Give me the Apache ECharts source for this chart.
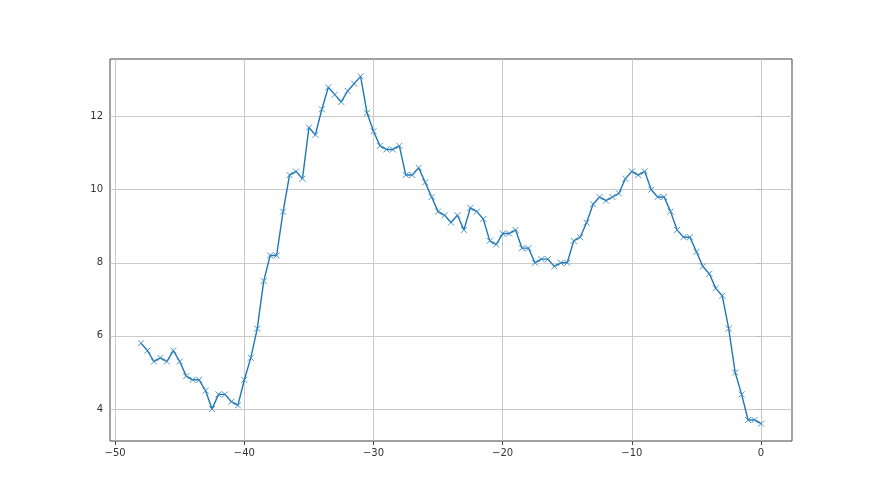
<!DOCTYPE html>
<html>
<head>
<meta charset="UTF-8">
<title>line</title>
<style>
  html, body { margin: 0; padding: 0; background: #fff; }
  #chart { width: 880px; height: 495px; }
</style>
</head>
<body>
<div id="chart"></div>
<script src="https://cdn.jsdelivr.net/npm/echarts@6/dist/echarts.min.js"></script>
<script>
// x positions of the samples
var xValues = [
  -48, -47.5, -47, -46.5, -46, -45.5, -45, -44.5, -44, -43.5,
  -43, -42.5, -42, -41.5, -41, -40.5, -40, -39.5, -39, -38.5,
  -38, -37.5, -37, -36.5, -36, -35.5, -35, -34.5, -34, -33.5,
  -33, -32.5, -32, -31.5, -31, -30.5, -30, -29.5, -29, -28.5,
  -28, -27.5, -27, -26.5, -26, -25.5, -25, -24.5, -24, -23.5,
  -23, -22.5, -22, -21.5, -21, -20.5, -20, -19.5, -19, -18.5,
  -18, -17.5, -17, -16.5, -16, -15.5, -15, -14.5, -14, -13.5,
  -13, -12.5, -12, -11.5, -11, -10.5, -10, -9.5, -9, -8.5,
  -8, -7.5, -7, -6.5, -6, -5.5, -5, -4.5, -4, -3.5,
  -3, -2.5, -2, -1.5, -1, -0.5, 0
];
// y values
var yValues = [
  5.8, 5.6, 5.3, 5.4, 5.3, 5.6, 5.3, 4.9, 4.8, 4.8,
  4.5, 4.0, 4.4, 4.4, 4.2, 4.1, 4.8, 5.4, 6.2, 7.5,
  8.2, 8.2, 9.4, 10.4, 10.5, 10.3, 11.7, 11.5, 12.2, 12.8,
  12.6, 12.4, 12.7, 12.9, 13.1, 12.1, 11.6, 11.2, 11.1, 11.1,
  11.2, 10.4, 10.4, 10.6, 10.2, 9.8, 9.4, 9.3, 9.1, 9.3,
  8.9, 9.5, 9.4, 9.2, 8.6, 8.5, 8.8, 8.8, 8.9, 8.4,
  8.4, 8.0, 8.1, 8.1, 7.9, 8.0, 8.0, 8.6, 8.7, 9.1,
  9.6, 9.8, 9.7, 9.8, 9.9, 10.3, 10.5, 10.4, 10.5, 10.0,
  9.8, 9.8, 9.4, 8.9, 8.7, 8.7, 8.3, 7.9, 7.7, 7.3,
  7.1, 6.2, 5.0, 4.4, 3.7, 3.7, 3.6
];
var xTicks = [-50, -40, -30, -20, -10, 0];
var yTicks = [4, 6, 8, 10, 12];

var chart = echarts.init(document.getElementById('chart'));

var pts = [];
for (var i = 0; i < xValues.length; i++) {
  pts.push([xValues[i], yValues[i]]);
}

// gridlines at the tick values
var gridLines = [];
yTicks.forEach(function (v) { gridLines.push({ yAxis: v }); });
xTicks.forEach(function (v) { gridLines.push({ xAxis: v }); });

var minusFmt = function (v) { return String(v).replace('-', '\u2212'); };
var labelFont = { color: '#333', fontSize: 10, fontFamily: 'DejaVu Sans' };

chart.setOption({
  animation: false,
  backgroundColor: '#fff',
  grid: {
    left: 110, right: 88, top: 59, bottom: 54,
    show: true, borderColor: '#444', borderWidth: 1, backgroundColor: '#fff'
  },
  xAxis: {
    type: 'value',
    min: -50.4, max: 2.4,
    axisLine: { show: false },
    splitLine: { show: false },
    axisTick: { show: true, customValues: xTicks, length: 4, lineStyle: { color: '#444' } },
    axisLabel: Object.assign({ customValues: xTicks, margin: 7, formatter: minusFmt }, labelFont)
  },
  yAxis: {
    type: 'value',
    min: 3.125, max: 13.575,
    axisLine: { show: false },
    splitLine: { show: false },
    axisTick: { show: true, customValues: yTicks, length: 4, lineStyle: { color: '#444' } },
    axisLabel: Object.assign({ customValues: yTicks, margin: 7 }, labelFont)
  },
  series: [{
    type: 'line',
    data: pts,
    z: 3,
    symbol: 'path://M0,0L10,10M10,0L0,10',
    symbolSize: 6,
    showAllSymbol: true,
    lineStyle: { color: '#1f77b4', width: 1.4 },
    itemStyle: { color: '#3b8ac4', borderColor: '#3b8ac4', borderWidth: 0.9 },
    markLine: {
      silent: true,
      z: 1,
      symbol: 'none',
      label: { show: false },
      lineStyle: { color: '#c4c4c4', width: 0.9, type: 'solid' },
      emphasis: { disabled: true },
      data: gridLines
    }
  }]
});
</script>
</body>
</html>
